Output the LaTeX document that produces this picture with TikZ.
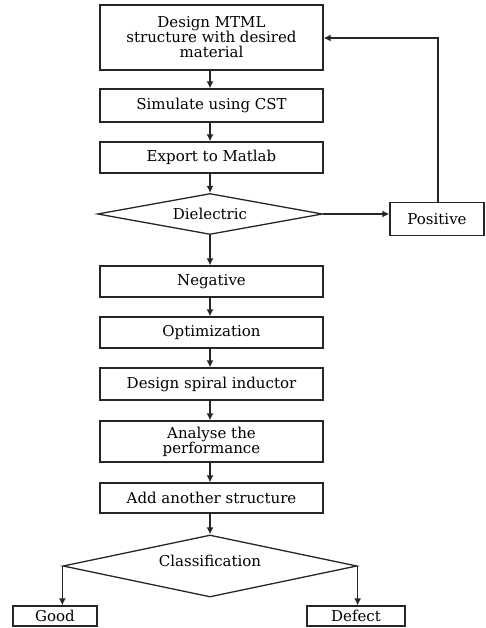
\documentclass[tikz,border=0pt]{standalone}
\usepackage{fontspec}
\setmainfont{DejaVu Serif}
\usetikzlibrary{shapes.geometric,arrows.meta}
\begin{document}
\begin{tikzpicture}[x=1pt,y=-1pt,
  every node/.style={font=\fontsize{15}{15}\selectfont, text=black},
  box/.style={draw=black!85, line width=1.3pt, rectangle, minimum width=223pt, inner sep=0pt, align=center},
  smallbox/.style={draw=black!85, line width=1.3pt, rectangle, inner sep=0pt, align=center},
  dia/.style={draw=black!85, line width=1.3pt, diamond, inner sep=0pt},
  conn/.style={draw=black!85, line width=1.3pt, -{Latex[length=7pt,width=7pt]}}
]
\useasboundingbox (0,0) rectangle (486,628);
\node[box, minimum height=65pt] (b1) at (211.5,37.5) {Design MTML\\structure with desired\\material};
\node[box, minimum height=33pt] (b2) at (211.5,105.5) {Simulate using CST};
\node[box, minimum height=31pt] (b3) at (211.5,157.5) {Export to Matlab};
\node[dia, aspect=5.5, minimum width=225pt, minimum height=41pt] (d1) at (210,214) {Dielectric};
\node[smallbox, minimum width=94pt, minimum height=33pt] (pos) at (437,219) {Positive};
\node[box, minimum height=31pt] (b4) at (211.5,281.5) {Negative};
\node[box, minimum height=31pt] (b5) at (211.5,332.5) {Optimization};
\node[box, minimum height=32pt] (b6) at (211.5,384) {Design spiral inductor};
\node[box, minimum height=41pt] (b7) at (211.5,441.5) {Analyse the\\performance};
\node[box, minimum height=30pt] (b8) at (211.5,498) {Add another structure};
\node[dia, aspect=4.7, minimum width=294pt, minimum height=62pt] (d2) at (210,566) {};
\node (cls) at (210,561) {Classification};
\node[smallbox, minimum width=84pt, minimum height=20pt] (good) at (55,616) {Good};
\node[smallbox, minimum width=98pt, minimum height=20pt] (def) at (356,616) {Defect};
\coordinate (fb) at (438,38);
\draw[conn] (b1.south -| d1.north) -- (b2.north -| d1.north);
\draw[conn] (b2.south -| d1.north) -- (b3.north -| d1.north);
\draw[conn] (b3.south -| d1.north) -- (d1.north);
\draw[conn] (d1.east) -- (d1.east -| pos.west);
\draw[conn] (pos.north -| fb) -- (fb) -- (fb -| b1.east);
\draw[conn] (d1.south) -- (d1.south |- b4.north);
\draw[conn] (b4.south -| d1.south) -- (b5.north -| d1.south);
\draw[conn] (b5.south -| d1.south) -- (b6.north -| d1.south);
\draw[conn] (b6.south -| d1.south) -- (b7.north -| d1.south);
\draw[conn] (b7.south -| d1.south) -- (b8.north -| d1.south);
\draw[conn] (b8.south -| d2.north) -- (d2.north);
\draw[conn] (d2.west) -- (d2.west |- good.north);
\draw[conn] (d2.east) -- (d2.east |- def.north);
\end{tikzpicture}
\end{document}
